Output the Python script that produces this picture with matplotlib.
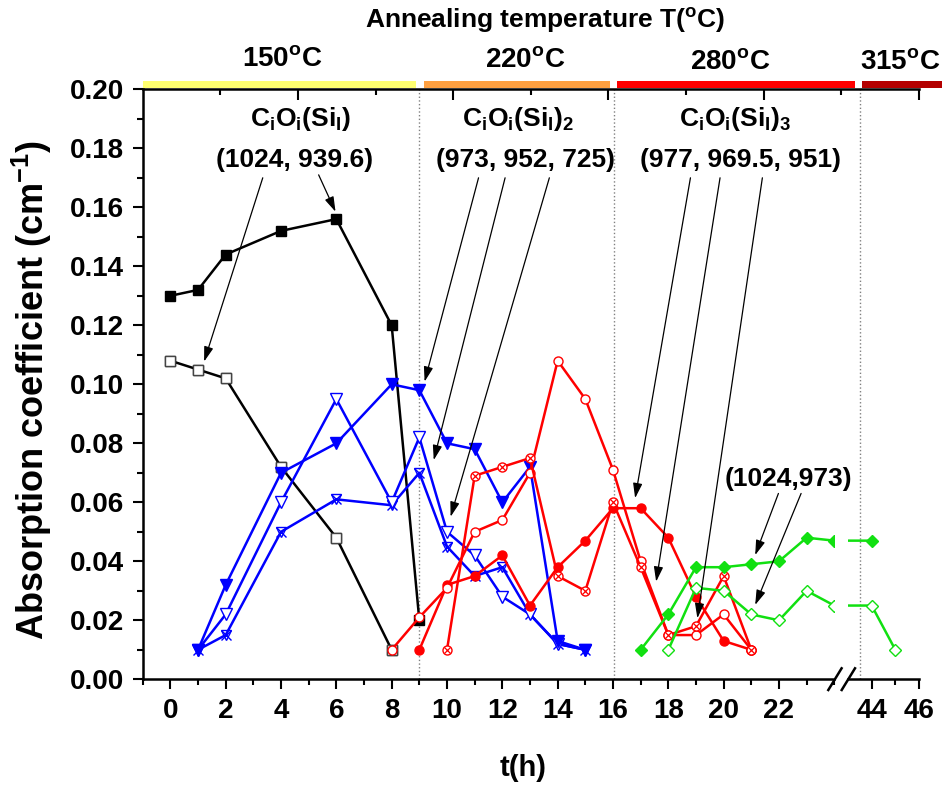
import matplotlib
matplotlib.use("Agg")
import matplotlib.pyplot as plt
from matplotlib.ticker import MultipleLocator, FixedLocator, FormatStrFormatter
from matplotlib.lines import Line2D
from matplotlib.patches import Rectangle

plt.rcParams['font.family'] = ['Liberation Sans', 'DejaVu Sans']
plt.rcParams['font.weight'] = 'bold'
plt.rcParams['mathtext.fontset'] = 'custom'
plt.rcParams['mathtext.rm'] = 'Liberation Sans:bold'
plt.rcParams['mathtext.bf'] = 'Liberation Sans:bold'
plt.rcParams['mathtext.it'] = 'Liberation Sans:bold'
plt.rcParams['mathtext.default'] = 'rm'

# ---------------- data ----------------
t_black = [0, 1, 2, 4, 6, 8, 9]
black_filled = [0.130, 0.132, 0.144, 0.152, 0.156, 0.120, 0.020]
t_black_open = [0, 1, 2, 4, 6, 8]
black_open = [0.108, 0.105, 0.102, 0.072, 0.048, 0.010]

t_blue = [1, 2, 4, 6, 8, 9, 10, 11, 12, 13, 14, 15]
blue_filled = [0.010, 0.032, 0.070, 0.080, 0.100, 0.098, 0.080, 0.078, 0.060, 0.072, 0.013, 0.010]
blue_open = [0.010, 0.022, 0.060, 0.095, 0.060, 0.082, 0.050, 0.042, 0.028, 0.022, 0.012, 0.010]
blue_cross = [0.010, 0.015, 0.050, 0.061, 0.059, 0.070, 0.045, 0.035, 0.038, 0.022, 0.012, 0.010]

t_red_open = [8, 9, 10, 11, 12, 13, 14, 15, 16, 17, 18, 19, 20, 21]
red_open = [0.010, 0.021, 0.031, 0.050, 0.054, 0.070, 0.108, 0.095, 0.071, 0.040, 0.015, 0.015, 0.022, 0.010]
t_red_cross = [10, 11, 12, 13, 14, 15, 16, 17, 18, 19, 20, 21]
red_cross = [0.010, 0.069, 0.072, 0.075, 0.035, 0.030, 0.060, 0.038, 0.015, 0.018, 0.035, 0.010]
t_red_filled = [9, 10, 11, 12, 13, 14, 15, 16, 17, 18, 19, 20, 21]
red_filled = [0.010, 0.032, 0.035, 0.042, 0.025, 0.038, 0.047, 0.058, 0.058, 0.048, 0.028, 0.013, 0.010]

t_green = [17, 18, 19, 20, 21, 22, 23, 24, 44]
green_filled = [0.010, 0.022, 0.038, 0.038, 0.039, 0.040, 0.048, 0.047, 0.047]
t_green_open = [18, 19, 20, 21, 22, 23, 24, 44, 45]
green_open = [0.010, 0.031, 0.030, 0.022, 0.020, 0.030, 0.025, 0.025, 0.010]

stage_bounds = [9, 16.05, 43.5]
stage_labels = ['150$^{\\mathrm{o}}$C', '220$^{\\mathrm{o}}$C', '280$^{\\mathrm{o}}$C', '315$^{\\mathrm{o}}$C']
left_ticks = [0, 2, 4, 6, 8, 10, 12, 14, 16, 18, 20, 22]
right_ticks = [44, 46]
y_ticks = [0.00, 0.02, 0.04, 0.06, 0.08, 0.10, 0.12, 0.14, 0.16, 0.18, 0.20]

# ---------------- layout ----------------
W, H = 943, 789
fig = plt.figure(figsize=(W / 100, H / 100), dpi=100)


def fx(px):
    return px / W


def fy(py):
    return 1 - py / H


ax_left, ax_right_l, ax_right_r = 142.7, 834.3, 919.0
ax_top, ax_bot = 89.3, 679.3
ax_rstart = 848.0

axR = fig.add_axes([fx(ax_rstart), fy(ax_bot), fx(ax_right_r) - fx(ax_rstart), fy(ax_top) - fy(ax_bot)])
axL = fig.add_axes([fx(ax_left), fy(ax_bot), fx(ax_right_l) - fx(ax_left), fy(ax_top) - fy(ax_bot)])
axR.patch.set_visible(False)
axL.set_zorder(2)
axR.set_zorder(1)

for ax in (axL, axR):
    ax.set_ylim(0, 0.2)
    ax.spines['top'].set_visible(False)
    ax.spines['right'].set_visible(False)
    ax.spines['bottom'].set_linewidth(1.8)
    ax.spines['left'].set_linewidth(1.8)
    ax.tick_params(axis='both', which='major', direction='out', length=7.5, width=1.5,
                   labelsize=20, pad=6)
    ax.tick_params(axis='both', which='minor', direction='out', length=4, width=1.5)
    ax.tick_params(top=False, right=False)

axL.set_xlim(-1, 24)
axR.set_xlim(43, 46)
axR.spines['left'].set_visible(False)
axR.tick_params(axis='y', which='both', left=False, labelleft=False)

axL.xaxis.set_major_locator(FixedLocator(left_ticks))
axL.xaxis.set_minor_locator(MultipleLocator(1))
axR.xaxis.set_major_locator(FixedLocator(right_ticks))
axR.xaxis.set_minor_locator(FixedLocator([45]))
axL.yaxis.set_major_locator(FixedLocator(y_ticks))
axL.yaxis.set_minor_locator(MultipleLocator(0.01))
axL.yaxis.set_major_formatter(FormatStrFormatter('%.2f'))
for lab in axL.get_xticklabels() + axL.get_yticklabels() + axR.get_xticklabels():
    lab.set_fontweight('bold')

# top frame with its own ticks
axT = fig.add_axes([fx(ax_left), fy(ax_bot), fx(ax_right_r) - fx(ax_left), fy(ax_top) - fy(ax_bot)])
axT.patch.set_visible(False)
for s in ('left', 'right', 'bottom'):
    axT.spines[s].set_visible(False)
axT.spines['top'].set_linewidth(1.8)
axT.set_xlim(0, 1)
axT.set_ylim(0, 1)
axT.set_yticks([])
axT.xaxis.set_ticks_position('top')
axT.xaxis.set_major_locator(FixedLocator([0.2, 0.4, 0.6, 0.8, 1.0]))
axT.xaxis.set_minor_locator(FixedLocator([0.1, 0.3, 0.5, 0.7, 0.9]))
axT.tick_params(axis='x', which='major', direction='in', length=8, width=1.5, labeltop=False, labelbottom=False)
axT.tick_params(axis='x', which='minor', direction='in', length=4, width=1.5)
axT.set_zorder(3)

# dotted stage separators
axL.axvline(stage_bounds[0], color='gray', ls=':', lw=1.0, zorder=1)
axL.axvline(stage_bounds[1], color='gray', ls=':', lw=1.0, zorder=1)
axR.axvline(stage_bounds[2], color='gray', ls=':', lw=1.0, zorder=1)

LW = 1.8


def series(ax, t, v, color, marker, mfc, ms, mew=1.0, z=3):
    ax.plot(t, v, color=color, lw=LW, marker=marker, mfc=mfc, mec=color, ms=ms, mew=mew, zorder=z)


for ax in (axL,):
    series(ax, t_black_open, black_open, 'black', 's', 'white', 6.5, 1.0)
    ax.plot(t_black_open, black_open, ls='none', marker='s', mfc='white', mec='#444444', ms=6.5, mew=1.0, zorder=3)
    series(ax, t_black, black_filled, 'black', 's', 'black', 6.5)
    series(ax, t_blue, blue_cross, 'blue', 'x', 'none', 7, 1.0)
    ax.plot(t_blue, blue_cross, ls='none', marker='v', mfc='none', mec='blue', ms=7.5, mew=1.0, zorder=3)
    series(ax, t_blue, blue_open, 'blue', 'v', 'white', 8)
    series(ax, t_blue, blue_filled, 'blue', 'v', 'blue', 8)
    series(ax, t_red_filled, red_filled, 'red', 'o', 'red', 6.5, z=4)
    series(ax, t_red_open, red_open, 'red', 'o', 'white', 6.5, z=4)
    series(ax, t_red_cross, red_cross, 'red', 'o', 'white', 6.5, z=4)
    ax.plot(t_red_cross, red_cross, ls='none', marker='x', mec='red', ms=4.5, mew=0.9, zorder=4)

GREEN = '#11e011'
for ax in (axL, axR):
    series(ax, t_green, green_filled, GREEN, 'D', GREEN, 6.5, z=4)
    series(ax, t_green_open, green_open, GREEN, 'D', 'white', 6.5, z=4)

# break marks
for x0 in (828.3, 841.7):
    fig.add_artist(Line2D([fx(x0), fx(x0 + 13.3)], [fy(690), fy(668.3)], color='black', lw=1.8,
                          transform=fig.transFigure))

# temperature colour bars
bars = [(143, 416, '#ffff70'), (424, 610, '#ffa040'), (617, 855, '#ff0000'), (862, 942, '#b40000')]
for x0, x1, c in bars:
    fig.add_artist(Rectangle((fx(x0), fy(88)), fx(x1) - fx(x0), fy(81) - fy(88), color=c,
                             transform=fig.transFigure, lw=0))

# headings
fig.text(fx(545), fy(21), 'Annealing temperature T($^{\\mathrm{o}}$C)', ha='center', va='center',
         fontsize=19, fontweight='bold')
for xc, yc, lab in zip([282, 525, 730, 900], [59, 60, 62, 62], stage_labels):
    fig.text(fx(xc), fy(yc), lab, ha='center', va='center', fontsize=20, fontweight='bold')

fig.text(fx(32), fy(390), 'Absorption coefficient (cm$^{\\mathrm{-1}}$)', rotation=90,
         ha='center', va='center', fontsize=26, fontweight='bold')
fig.text(fx(523), fy(768), 't(h)', ha='center', va='center', fontsize=21, fontweight='bold')

# annotations
TXT = 19
axL.text(4.72, 0.190, '$\\mathrm{C_iO_i(Si_I)}$', ha='center', va='center', fontsize=TXT)
axL.text(4.5, 0.176, '(1024, 939.6)', ha='center', va='center', fontsize=TXT, fontweight='bold')
axL.text(12.58, 0.190, '$\\mathrm{C_iO_i(Si_I)_2}$', ha='center', va='center', fontsize=TXT)
axL.text(12.83, 0.176, '(973, 952, 725)', ha='center', va='center', fontsize=TXT, fontweight='bold')
axL.text(20.4, 0.190, '$\\mathrm{C_iO_i(Si_I)_3}$', ha='center', va='center', fontsize=TXT)
axL.text(20.6, 0.176, '(977, 969.5, 951)', ha='center', va='center', fontsize=TXT, fontweight='bold')
axL.text(22.33, 0.068, '(1024,973)', ha='center', va='center', fontsize=TXT, fontweight='bold')

arrows = [
    ((3.34, 0.170), (1.22, 0.1077)),
    ((5.36, 0.171), (5.97, 0.1585)),
    ((11.14, 0.170), (9.19, 0.1009)),
    ((12.1, 0.170), (9.52, 0.0743)),
    ((13.7, 0.170), (10.13, 0.0551)),
    ((18.8, 0.170), (16.8, 0.0614)),
    ((19.87, 0.170), (17.56, 0.0331)),
    ((21.4, 0.170), (19.05, 0.0207)),
    ((21.98, 0.063), (21.14, 0.0421)),
    ((22.8, 0.063), (21.14, 0.0252)),
]
for start, tip in arrows:
    axL.annotate('', xy=tip, xytext=start,
                 arrowprops=dict(arrowstyle='-|>,head_length=0.9,head_width=0.28', color='black',
                                 lw=0.9, shrinkA=0, shrinkB=0),
                 annotation_clip=False, zorder=6)

fig.savefig('out.png', dpi=100)
